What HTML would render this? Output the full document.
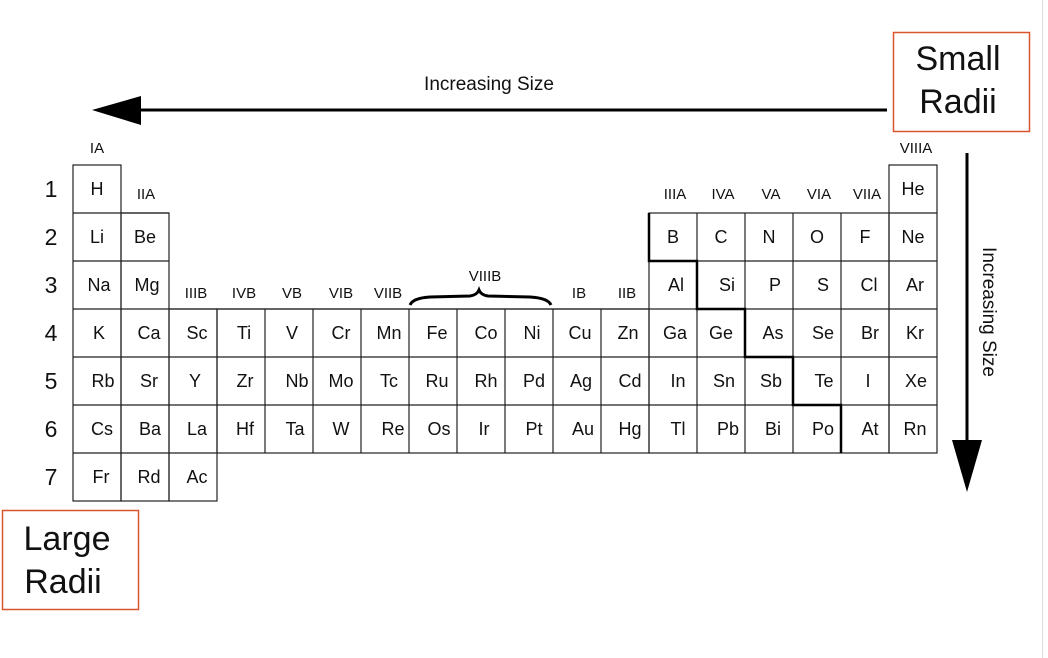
<!DOCTYPE html>
<html><head><meta charset="utf-8"><style>
html,body{margin:0;padding:0;background:#fff;}
svg{display:block;}
text{font-family:"Liberation Sans",Arial,sans-serif;fill:#111;}
</style></head><body>
<svg width="1048" height="658" viewBox="0 0 1048 658" xmlns="http://www.w3.org/2000/svg">
<rect width="1048" height="658" fill="#fff"/>
<line x1="1042.5" y1="0" x2="1042.5" y2="658" stroke="#ddd" stroke-width="1"/>
<!-- top arrow -->
<line x1="138" y1="110" x2="887" y2="110" stroke="#000" stroke-width="3"/>
<polygon points="92,110 141,96 141,125" fill="#000"/>
<text x="489" y="90" font-size="19" text-anchor="middle">Increasing Size</text>
<!-- boxes -->
<rect x="893.5" y="32.5" width="136" height="99" fill="none" stroke="#d9542f" stroke-width="1.5"/>
<text x="958" y="70" font-size="34" text-anchor="middle">Small</text>
<text x="958" y="113" font-size="34" text-anchor="middle">Radii</text>
<rect x="2.5" y="510.5" width="136" height="99" fill="none" stroke="#d9542f" stroke-width="1.5"/>
<text x="67" y="550" font-size="34" text-anchor="middle">Large</text>
<text x="63" y="593" font-size="34" text-anchor="middle">Radii</text>
<!-- vertical arrow -->
<line x1="967" y1="153" x2="967" y2="450" stroke="#000" stroke-width="3"/>
<polygon points="952,440 982,440 967,492" fill="#000"/>
<text transform="translate(983,312) rotate(90)" font-size="19" text-anchor="middle">Increasing Size</text>
<!-- group labels -->
<g font-size="15" text-anchor="middle">
<text x="97" y="153">IA</text>
<text x="146" y="199">IIA</text>
<text x="196" y="298">IIIB</text>
<text x="244" y="298">IVB</text>
<text x="292" y="298">VB</text>
<text x="341" y="298">VIB</text>
<text x="388" y="298">VIIB</text>
<text x="485" y="281">VIIIB</text>
<text x="579" y="298">IB</text>
<text x="627" y="298">IIB</text>
<text x="675" y="199">IIIA</text>
<text x="723" y="199">IVA</text>
<text x="771" y="199">VA</text>
<text x="819" y="199">VIA</text>
<text x="867" y="199">VIIA</text>
<text x="916" y="153">VIIIA</text>
</g>
<path d="M410,305 Q413,298 430,297 L470,296 Q477,295 479,290 Q481,295 488,296 L530,297 Q548,298 551,305" fill="none" stroke="#000" stroke-width="3"/>
<!-- row numbers -->
<g font-size="23" text-anchor="middle">
<text x="51" y="197">1</text><text x="51" y="245">2</text><text x="51" y="293">3</text>
<text x="51" y="341">4</text><text x="51" y="389">5</text><text x="51" y="437">6</text><text x="51" y="485">7</text>
</g>
<!-- grid -->
<g fill="none" stroke="#222" stroke-width="1.2">
<rect x="73" y="165" width="48" height="336"/>
<rect x="121" y="213" width="48" height="288"/>
<rect x="169" y="309" width="48" height="192"/>
<rect x="217" y="309" width="432" height="144"/>
<rect x="649" y="213" width="240" height="240"/>
<rect x="889" y="165" width="48" height="288"/>
<path d="M73,213H169M73,261H169M73,309H937M73,357H937M73,405H937M73,453H217
M649,261H889M889,213H937M889,261H937M889,309H937
M265,309V453M313,309V453M361,309V453M409,309V453M457,309V453M505,309V453M553,309V453M601,309V453
M697,213V453M745,213V453M793,213V453M841,213V453"/>
</g>
<path d="M649,213V261H697V309H745V357H793V405H841V453" fill="none" stroke="#000" stroke-width="2.5"/>
<!-- elements -->
<g font-size="18" text-anchor="middle">
<text x="97" y="195">H</text><text x="913" y="195">He</text>
<text x="97" y="243">Li</text><text x="145" y="243">Be</text>
<text x="673" y="243">B</text><text x="721" y="243">C</text><text x="769" y="243">N</text><text x="817" y="243">O</text><text x="865" y="243">F</text><text x="913" y="243">Ne</text>
<text x="99" y="291">Na</text><text x="147" y="291">Mg</text>
<text x="676" y="291">Al</text><text x="727" y="291">Si</text><text x="775" y="291">P</text><text x="823" y="291">S</text><text x="869" y="291">Cl</text><text x="915" y="291">Ar</text>
<text x="99" y="339">K</text><text x="149" y="339">Ca</text><text x="197" y="339">Sc</text><text x="244" y="339">Ti</text><text x="292" y="339">V</text><text x="341" y="339">Cr</text><text x="389" y="339">Mn</text><text x="437" y="339">Fe</text><text x="486" y="339">Co</text><text x="532" y="339">Ni</text><text x="580" y="339">Cu</text><text x="628" y="339">Zn</text><text x="675" y="339">Ga</text><text x="721" y="339">Ge</text><text x="773" y="339">As</text><text x="823" y="339">Se</text><text x="870" y="339">Br</text><text x="915" y="339">Kr</text>
<text x="103" y="387">Rb</text><text x="149" y="387">Sr</text><text x="195" y="387">Y</text><text x="245" y="387">Zr</text><text x="297" y="387">Nb</text><text x="341" y="387">Mo</text><text x="389" y="387">Tc</text><text x="437" y="387">Ru</text><text x="486" y="387">Rh</text><text x="534" y="387">Pd</text><text x="581" y="387">Ag</text><text x="630" y="387">Cd</text><text x="678" y="387">In</text><text x="724" y="387">Sn</text><text x="771" y="387">Sb</text><text x="824" y="387">Te</text><text x="868" y="387">I</text><text x="916" y="387">Xe</text>
<text x="102" y="435">Cs</text><text x="150" y="435">Ba</text><text x="197" y="435">La</text><text x="245" y="435">Hf</text><text x="295" y="435">Ta</text><text x="341" y="435">W</text><text x="393" y="435">Re</text><text x="439" y="435">Os</text><text x="484" y="435">Ir</text><text x="534" y="435">Pt</text><text x="583" y="435">Au</text><text x="630" y="435">Hg</text><text x="678" y="435">Tl</text><text x="728" y="435">Pb</text><text x="773" y="435">Bi</text><text x="823" y="435">Po</text><text x="870" y="435">At</text><text x="915" y="435">Rn</text>
<text x="101" y="483">Fr</text><text x="149" y="483">Rd</text><text x="197" y="483">Ac</text>
</g>
</svg>
</body></html>
